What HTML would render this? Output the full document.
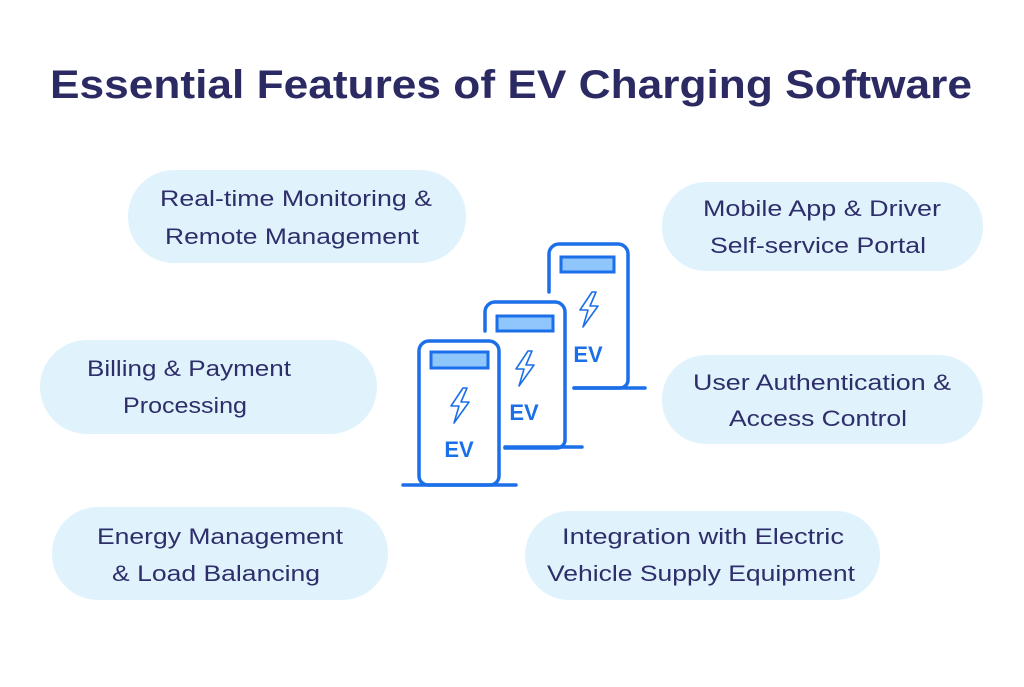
<!DOCTYPE html>
<html><head><meta charset="utf-8"><style>
html,body{margin:0;padding:0;background:#fff;}
</style></head><body>
<svg width="1024" height="682" viewBox="0 0 1024 682" xmlns="http://www.w3.org/2000/svg" font-family="Liberation Sans, sans-serif">
<rect width="1024" height="682" fill="#fff"/>
<text x="511" y="98" text-anchor="middle" font-size="40" font-weight="bold" fill="#2b2a63" textLength="922" lengthAdjust="spacingAndGlyphs">Essential Features of EV Charging Software</text>
<g fill="#e0f3fc">
<rect x="128" y="170" width="338" height="93" rx="46"/>
<rect x="662" y="182" width="321" height="89" rx="44"/>
<rect x="40" y="340" width="337" height="94" rx="47"/>
<rect x="662" y="355" width="321" height="89" rx="44"/>
<rect x="52" y="507" width="336" height="93" rx="46"/>
<rect x="525" y="511" width="355" height="89" rx="44"/>
</g>
<g font-size="22" fill="#2e2e6b" text-anchor="middle">
<text x="296" y="206" textLength="272" lengthAdjust="spacingAndGlyphs">Real-time Monitoring &amp;</text>
<text x="292" y="244" textLength="254" lengthAdjust="spacingAndGlyphs">Remote Management</text>
<text x="822" y="216" textLength="238" lengthAdjust="spacingAndGlyphs">Mobile App &amp; Driver</text>
<text x="818" y="253" textLength="216" lengthAdjust="spacingAndGlyphs">Self-service Portal</text>
<text x="189" y="376" textLength="204" lengthAdjust="spacingAndGlyphs">Billing &amp; Payment</text>
<text x="185" y="413" textLength="124" lengthAdjust="spacingAndGlyphs">Processing</text>
<text x="822" y="390" textLength="258" lengthAdjust="spacingAndGlyphs">User Authentication &amp;</text>
<text x="818" y="426" textLength="178" lengthAdjust="spacingAndGlyphs">Access Control</text>
<text x="220" y="544" textLength="246" lengthAdjust="spacingAndGlyphs">Energy Management</text>
<text x="216" y="581" textLength="208" lengthAdjust="spacingAndGlyphs">&amp; Load Balancing</text>
<text x="703" y="544" textLength="282" lengthAdjust="spacingAndGlyphs">Integration with Electric</text>
<text x="701" y="581" textLength="308" lengthAdjust="spacingAndGlyphs">Vehicle Supply Equipment</text>
</g>
<g stroke="#1b6fe8" stroke-width="3.5" fill="none" stroke-linecap="round">
<!-- back -->
<path d="M549 292 V254 a10 10 0 0 1 10 -10 H618 a10 10 0 0 1 10 10 V380 a8 8 0 0 1 -8 8 H574"/>
<line x1="574" y1="388" x2="645" y2="388"/>
<!-- middle -->
<path d="M485 331 V312 a10 10 0 0 1 10 -10 H555 a10 10 0 0 1 10 10 V440 a8 8 0 0 1 -8 8 H505"/>
<line x1="505" y1="447" x2="582" y2="447"/>
<!-- front -->
<path d="M419 476 V351 a10 10 0 0 1 10 -10 H489 a10 10 0 0 1 10 10 V476 a9 9 0 0 1 -9 9 H428 a9 9 0 0 1 -9 -9 Z" fill="#fff"/>
<line x1="403" y1="485" x2="516" y2="485"/>
</g>
<g fill="#8fc6fb" stroke="#1b6fe8" stroke-width="3">
<rect x="561" y="257" width="53" height="15"/>
<rect x="497" y="316" width="56" height="15"/>
<rect x="431" y="352" width="57" height="16"/>
</g>
<g fill="none" stroke="#1b6fe8" stroke-width="1.6" stroke-linejoin="round">
<path d="M592 292 L580 310 H588 L583 327 L598 306 H590 L596 292 Z"/>
<path d="M528 351 L516 369 H524 L519 386 L534 365 H526 L532 351 Z"/>
<path d="M463 388 L451 406 H459 L454 423 L469 402 H461 L467 388 Z"/>
</g>
<g fill="#1b6fe8" font-weight="bold" font-size="22" text-anchor="middle">
<text x="588" y="362">EV</text>
<text x="524" y="420">EV</text>
<text x="459" y="457">EV</text>
</g>
</svg>
</body></html>
